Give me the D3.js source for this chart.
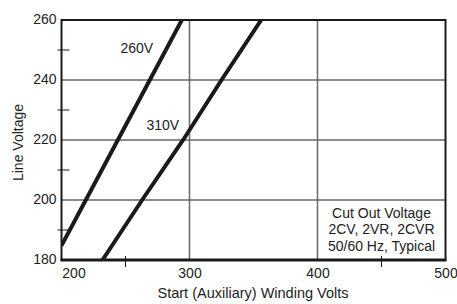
<!DOCTYPE html>
<html><head><meta charset="utf-8">
<script src="https://cdn.jsdelivr.net/npm/d3@7"></script>
<style>body{margin:0;background:#fff}svg{display:block}text{font-family:"Liberation Sans",Arial,sans-serif;fill:#222}</style>
</head><body><svg id="c" width="457" height="304"></svg>
<script>
const xTicks = [200, 300, 400, 500];
const yTicks = [180, 200, 220, 240, 260];
const xMinor = [250, 450];
const yMinor = [190, 210, 230, 250];
const xGrid = [300, 400];
const yGrid = [200, 220, 240];
const curve260 = [[200, 184.8], [219, 200], [269, 240], [294, 260]];
const curve310 = [[232, 180], [263, 200], [295, 220], [325, 240], [356, 260]];
const curveLabels = ["260V", "310V"];
const noteLines = ["Cut Out Voltage", "2CV, 2VR, 2CVR", "50/60 Hz, Typical"];

const svg = d3.select("#c");
const x = d3.scaleLinear().domain([200, 500]).range([61.5, 445.5]);
const y = d3.scaleLinear().domain([180, 260]).range([260, 20]);

// grid
svg.append("g").selectAll("line").data(xGrid).join("line")
  .attr("x1", d => x(d)).attr("x2", d => x(d)).attr("y1", y(260)).attr("y2", y(180))
  .attr("stroke", "#666").attr("stroke-width", 1.5);
svg.append("g").selectAll("line").data(yGrid).join("line")
  .attr("y1", d => y(d)).attr("y2", d => y(d)).attr("x1", x(200)).attr("x2", x(500))
  .attr("stroke", "#666").attr("stroke-width", 1.5);

// curves
svg.append("clipPath").attr("id", "pc").append("rect")
  .attr("x", x(200)).attr("y", y(260)).attr("width", x(500) - x(200)).attr("height", y(180) - y(260));
const line = d3.line().x(d => x(d[0])).y(d => y(d[1]));
[curve260, curve310].forEach(c => {
  svg.append("path").datum(c).attr("d", line).attr("fill", "none")
    .attr("stroke", "#1a1a1a").attr("stroke-width", 4).attr("clip-path", "url(#pc)");
});

// frame
svg.append("rect").attr("x", x(200)).attr("y", y(260)).attr("width", x(500) - x(200)).attr("height", y(180) - y(260))
  .attr("fill", "none").attr("stroke", "#1a1a1a").attr("stroke-width", 2);
svg.append("line").attr("x1", x(200) - 1).attr("x2", x(500) + 1).attr("y1", y(180)).attr("y2", y(180))
  .attr("stroke", "#1a1a1a").attr("stroke-width", 3);

// axes
const yAxis = d3.axisLeft(y).tickValues(yTicks).tickSize(0).tickPadding(5);
const gy = svg.append("g").attr("transform", `translate(${x(200)},0)`).call(yAxis);
gy.select(".domain").remove();
gy.selectAll("text").style("font-size", "14px").attr("fill", "#222").attr("dy", "0.25em");

const xAxis = d3.axisBottom(x).tickValues(xTicks).tickSize(0).tickPadding(8);
const gx = svg.append("g").attr("transform", `translate(0,${y(180)})`).call(xAxis);
gx.select(".domain").remove();
gx.selectAll("text").style("font-size", "14px").attr("fill", "#222")
  .attr("dx", d => d === 200 ? 12 : 0);

// minor ticks
svg.append("g").selectAll("line").data(yMinor).join("line")
  .attr("x1", x(200) - 4).attr("x2", x(200) + 8).attr("y1", d => y(d)).attr("y2", d => y(d))
  .attr("stroke", "#1a1a1a").attr("stroke-width", 1);
svg.append("g").selectAll("line").data(xMinor).join("line")
  .attr("x1", d => x(d)).attr("x2", d => x(d)).attr("y1", y(180) - 4).attr("y2", y(180) + 7)
  .attr("stroke", "#1a1a1a").attr("stroke-width", 1);

// titles
svg.append("text").attr("x", 253).attr("y", 298).attr("text-anchor", "middle")
  .style("font-size", "14.5px").text("Start (Auxiliary) Winding Volts");
svg.append("text").attr("transform", "translate(23,142.5) rotate(-90)").attr("text-anchor", "middle")
  .style("font-size", "14px").text("Line Voltage");

// curve labels
svg.append("text").attr("x", 120.5).attr("y", 53).style("font-size", "14px").text(curveLabels[0]);
svg.append("text").attr("x", 146.5).attr("y", 129.5).style("font-size", "14px").text(curveLabels[1]);

// note
svg.append("g").selectAll("text").data(noteLines).join("text")
  .attr("x", 381.5).attr("y", (d, i) => 217.5 + i * 16.5).attr("text-anchor", "middle")
  .style("font-size", "14px").text(d => d);
</script></body></html>
